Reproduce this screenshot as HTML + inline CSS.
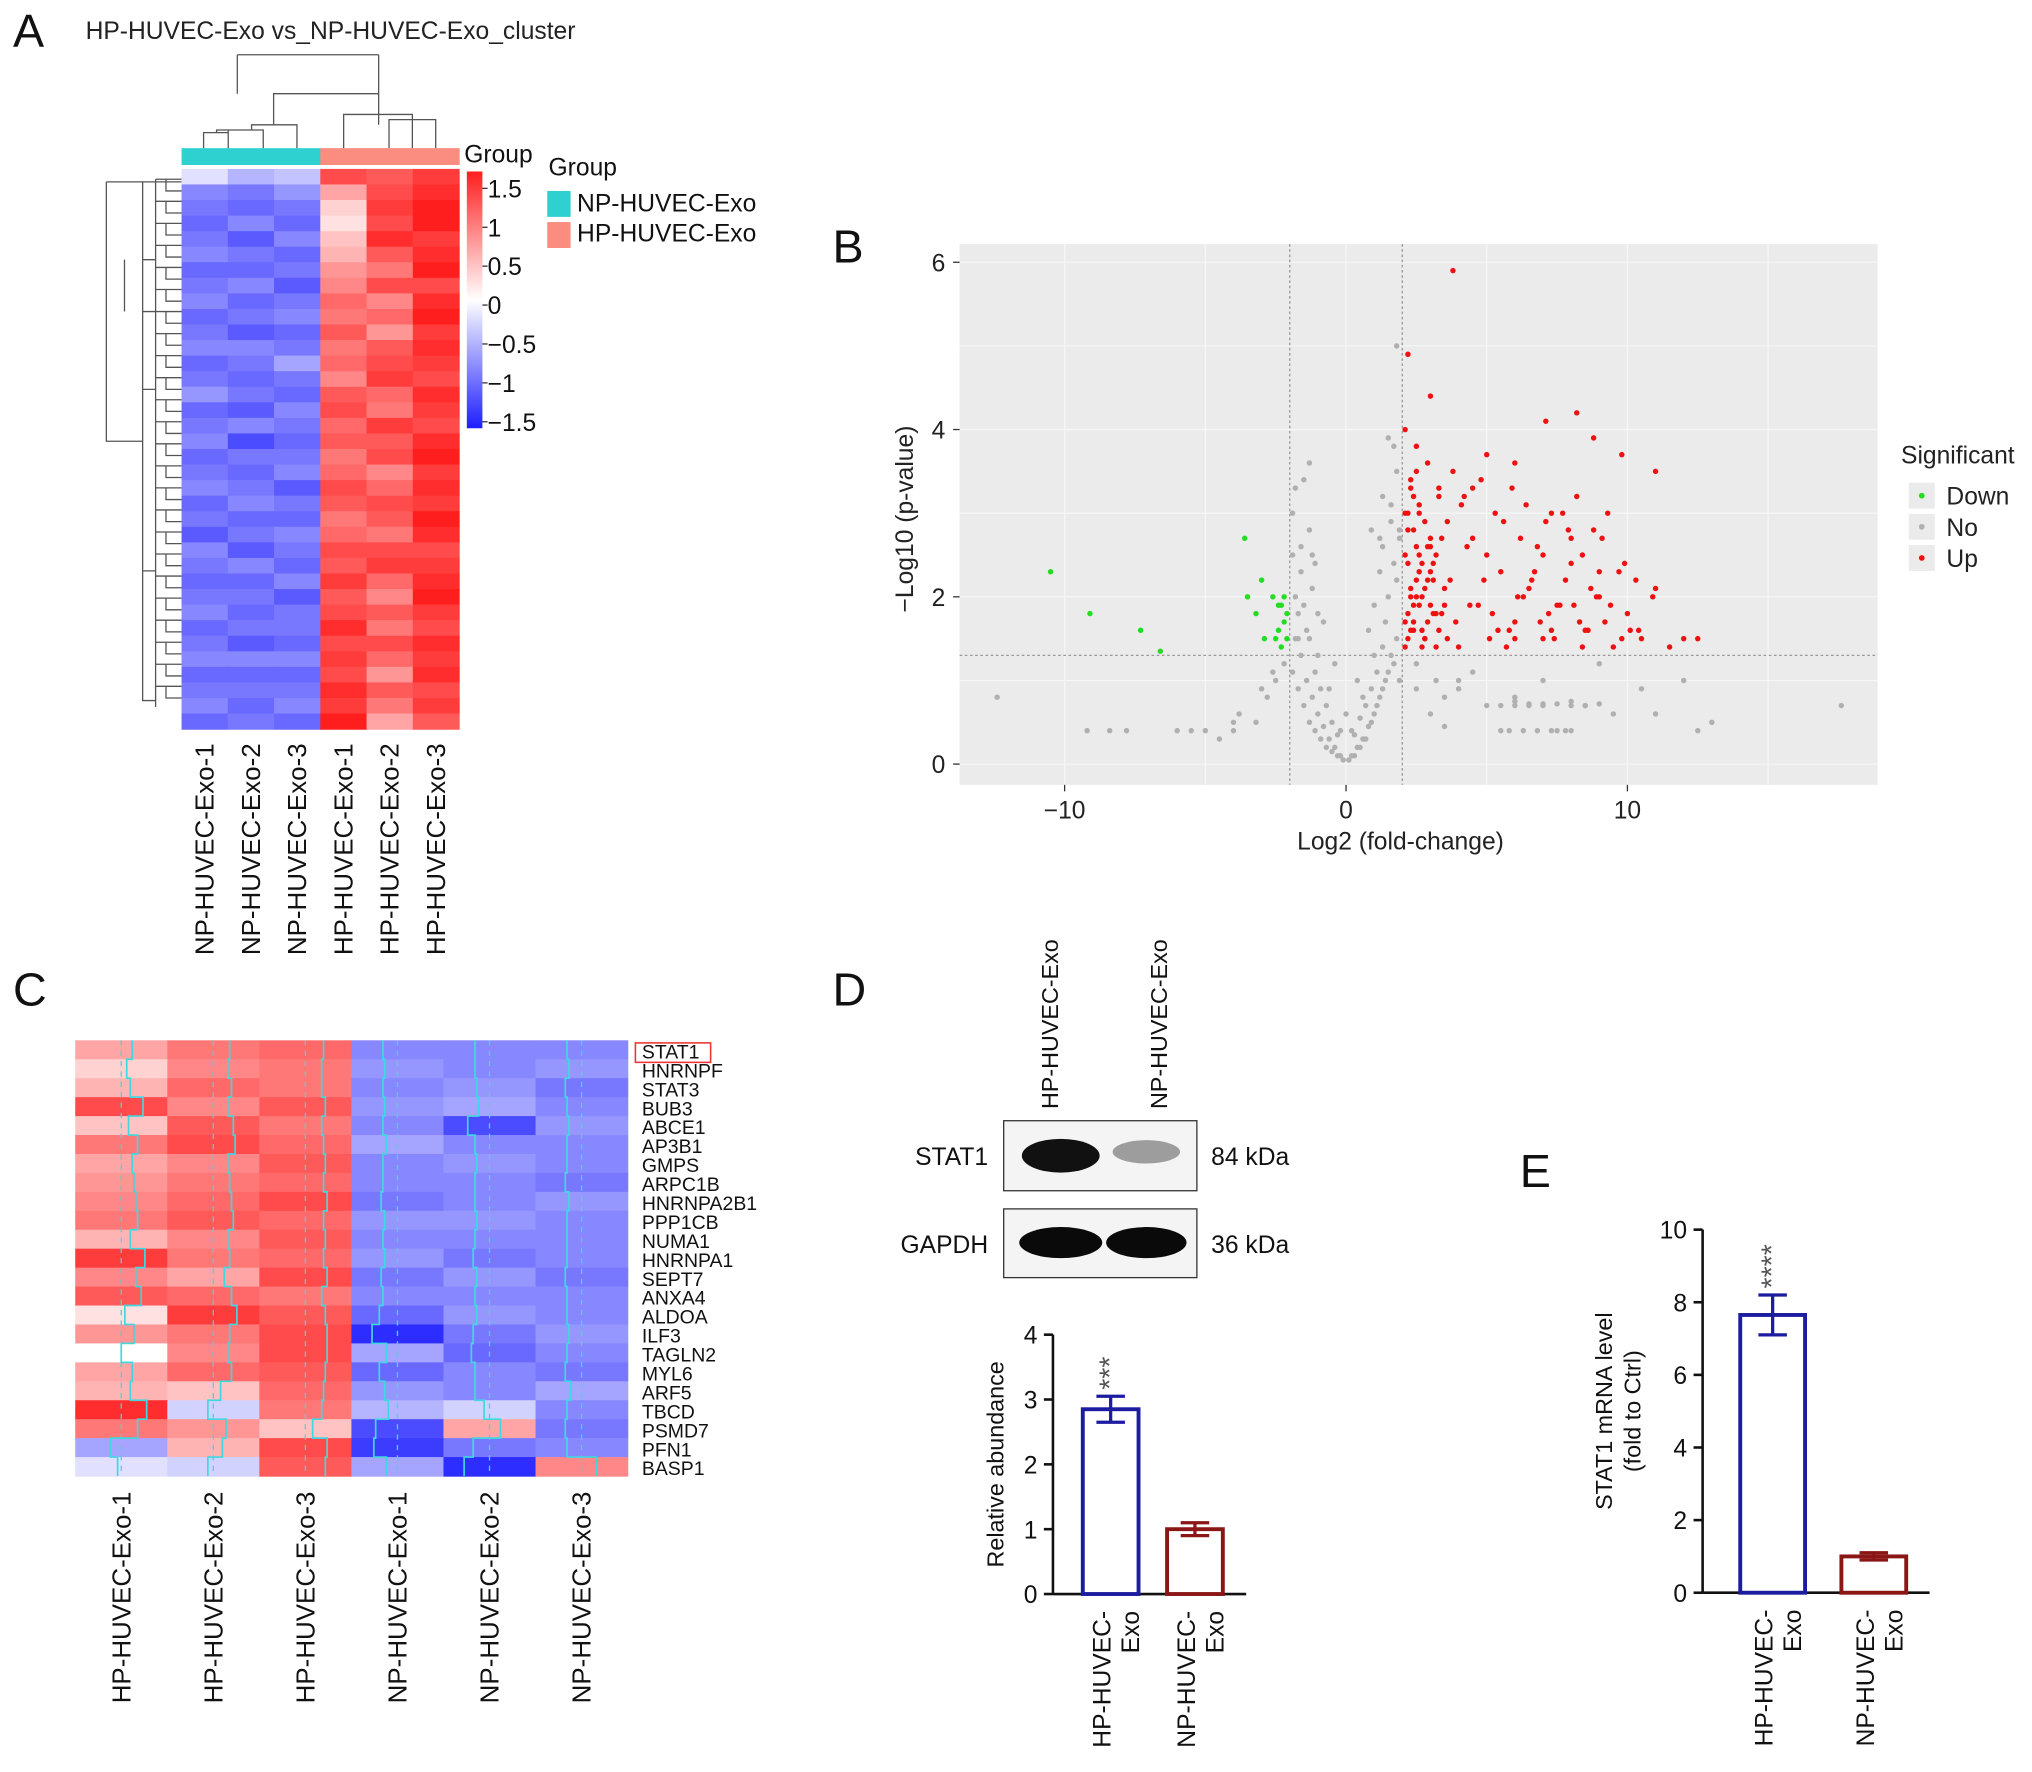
<!DOCTYPE html>
<html><head><meta charset="utf-8"><style>
html,body{margin:0;padding:0;background:#fff}
svg{display:block;font-family:"Liberation Sans",Arial,sans-serif}
</style></head><body>
<svg id="fig" width="2032" height="1772" viewBox="0 0 1567 1366" xmlns="http://www.w3.org/2000/svg">
<rect width="1567" height="1366" fill="#fff"/>
<g font-size="36" fill="#111">
<text x="10" y="36">A</text>
<text x="642" y="202">B</text>
<text x="10" y="775">C</text>
<text x="642" y="775">D</text>
<text x="1172" y="915">E</text>
</g>
<text x="66" y="30" font-size="19" fill="#222">HP-HUVEC-Exo vs_NP-HUVEC-Exo_cluster</text>
<g id="pa"></g><g id="pb"></g><g id="pc"></g><g id="pd"></g><g id="pe"></g>
</svg>
<script>
// ---------- data ----------
const heatARows = [
[-0.2,-0.5,-0.4,1.2,1.1,1.3],[-0.8,-0.9,-0.7,0.6,1.2,1.4],[-0.9,-1.0,-0.9,0.3,1.3,1.5],[-1.0,-0.8,-1.0,0.2,1.2,1.5],
[-0.9,-1.1,-0.8,0.4,1.4,1.3],[-0.8,-0.9,-1.0,0.5,1.1,1.4],[-1.0,-1.0,-0.9,0.7,0.9,1.5],[-0.9,-0.8,-1.1,0.8,1.2,1.2],
[-0.8,-1.0,-0.9,1.0,0.8,1.4],[-1.0,-0.9,-0.8,0.9,1.0,1.5],[-0.9,-1.1,-1.0,1.1,0.7,1.3],[-0.8,-0.8,-0.9,0.9,1.1,1.4],
[-1.0,-0.9,-0.6,1.0,1.2,1.3],[-0.9,-1.0,-0.9,0.8,1.3,1.2],[-0.7,-0.9,-1.0,1.1,1.0,1.4],[-1.0,-1.1,-0.8,1.2,0.9,1.3],
[-0.9,-0.8,-0.9,1.0,1.3,1.2],[-0.8,-1.2,-1.0,1.1,1.1,1.4],[-1.0,-0.9,-0.9,0.9,1.2,1.5],[-0.9,-1.0,-0.8,1.0,0.8,1.3],
[-0.8,-0.9,-1.1,1.2,1.0,1.4],[-1.0,-0.8,-0.9,1.1,1.2,1.3],[-0.9,-1.0,-1.0,0.9,1.1,1.5],[-1.1,-0.9,-0.8,1.0,0.9,1.4],
[-0.8,-1.1,-0.9,1.2,1.2,1.2],[-0.9,-0.8,-1.0,1.1,1.3,1.3],[-1.0,-1.0,-0.8,1.3,1.0,1.4],[-0.9,-0.9,-1.1,1.1,0.8,1.5],
[-0.8,-1.0,-0.9,1.2,1.1,1.3],[-1.0,-0.9,-0.9,1.4,0.9,1.2],[-0.9,-1.1,-1.0,1.2,1.2,1.4],[-0.8,-0.8,-0.8,1.3,1.0,1.3],
[-1.0,-1.0,-1.0,1.2,0.7,1.4],[-0.9,-0.9,-0.9,1.4,1.1,1.2],[-0.8,-1.0,-0.8,1.3,0.9,1.3],[-1.0,-0.9,-1.0,1.5,0.6,1.1]];
const heatAGroups = ['NP','NP','NP','HP','HP','HP'];
const heatASamples = ['NP-HUVEC-Exo-1','NP-HUVEC-Exo-2','NP-HUVEC-Exo-3','HP-HUVEC-Exo-1','HP-HUVEC-Exo-2','HP-HUVEC-Exo-3'];
const colorTicks = [1.5,1,0.5,0,-0.5,-1,-1.5];

const upX = [2.3,2.5,2.8,3.1,3.4,3.7,4.0,4.3,4.7,5.1,5.5,6.0,6.5,7.0,7.5,8.0,8.5,9.0,9.5,10,10.5,11,11.5,12,12.5,
2.2,2.6,3.0,3.3,3.6,4.1,4.5,5.0,5.6,6.2,6.8,7.3,7.9,8.4,9.1,9.7,10.3,10.9,
2.4,2.7,3.2,3.5,3.9,4.4,4.9,5.4,6.1,6.7,7.2,7.8,8.3,8.9,9.4,10.1,
2.3,2.9,3.3,3.8,4.2,4.8,5.3,5.9,6.4,7.1,7.7,8.2,8.8,9.3,9.9,
3.8,2.2,7.1,8.2,8.8,2.5,11.0,5.0,6.0,4.5,9.8,3.0,2.1,2.1,2.1,2.1,2.1,
2.2,2.4,2.6,2.8,3.0,3.2,3.4,3.6,2.3,2.5,2.7,2.9,3.1,3.3,3.5,2.2,2.4,2.6,2.8,3.0,3.2,2.3,2.5,2.7,2.9,3.1,
2.2,2.4,2.6,2.8,3.0,2.3,2.5,2.7,2.9,2.2,2.4,2.6,
5.2,5.8,6.3,6.9,7.4,8.1,8.6,9.2,9.8,10.4,6.6,7.6,8.7,5.7,7.0,8.0,9.0,6.0,7.3,8.4];
const upY = [1.6,2.0,1.5,2.4,1.8,2.2,1.4,2.6,1.9,1.5,2.3,1.7,2.1,1.5,1.9,2.4,1.6,2.0,1.4,1.8,1.5,2.1,1.4,1.5,1.5,
2.8,3.0,2.6,3.2,2.9,3.1,2.7,2.5,2.9,2.7,2.6,3.0,2.8,2.5,2.7,2.3,2.2,2.0,
1.9,1.6,1.8,2.1,1.7,1.9,2.2,1.6,2.0,2.3,1.8,2.2,1.7,2.0,1.9,1.6,
3.4,3.6,3.3,3.5,3.2,3.4,3.0,3.3,3.1,2.9,3.0,3.2,2.8,3.0,2.4,
5.9,4.9,4.1,4.2,3.9,3.8,3.5,3.7,3.6,3.3,3.7,4.4,4.0,3.0,2.5,1.7,1.4,
1.5,1.7,1.9,2.1,2.3,2.5,2.7,1.5,2.0,2.2,2.4,2.6,1.8,1.6,1.9,2.4,2.8,3.1,2.9,2.7,1.4,3.3,3.5,2.0,1.7,2.2,
1.8,1.6,2.3,1.5,1.9,2.1,2.6,1.4,2.2,3.0,3.2,2.5,
1.8,1.6,2.0,1.7,1.5,1.9,1.6,1.7,1.5,1.6,2.2,1.9,2.1,1.4,2.5,2.7,2.3,1.5,1.6,1.4];
const downX = [-10.5,-9.1,-7.3,-6.6,-3.6,-3.5,-3.2,-2.9,-2.6,-2.4,-2.2,-3.0,-2.5,-2.3,-2.1,-2.2,-2.4,-2.1,-2.3];
const downY = [2.3,1.8,1.6,1.35,2.7,2.0,1.8,1.5,2.0,1.9,1.7,2.2,1.5,1.4,1.8,2.0,1.6,1.5,1.9];
const noX = [-12.4,-9.2,-8.4,-7.8,-6.0,-5.0,-4.5,-4.0,-3.8,-3.2,-2.8,-2.5,-2.2,-1.9,-1.7,-1.5,-1.3,-1.1,-0.9,-0.7,-0.5,-0.3,-0.1,0.1,0.3,0.5,0.7,0.9,1.1,1.3,1.5,1.7,1.9,
-1.8,-1.4,-1.0,-0.6,-0.2,0.2,0.6,1.0,1.4,1.8,-1.6,-1.2,-0.8,-0.4,0,0.4,0.8,1.2,1.6,
-1.9,-1.5,-1.1,0.9,1.3,1.7,1.9,1.8,-1.7,-1.3,1.5,
2.5,3.2,4.0,5.0,5.5,6.0,6.5,7.0,7.5,8.0,8.5,9.5,10.5,12.0,13.0,17.6,3.5,4.5,6.0,7.0,8.0,9.0,11.0,12.5,
-1.8,-1.6,-1.4,-1.2,-1.0,-0.8,-0.6,-0.4,-0.2,0.2,0.4,0.6,0.8,1.0,1.2,1.4,1.6,1.8,
-1.7,-1.5,-1.3,-1.1,-0.9,-0.7,-0.5,-0.3,0.3,0.5,0.7,0.9,1.1,1.3,1.5,1.7,
-1.9,-1.6,-1.3,-1.0,1.0,1.3,1.6,1.9,-1.8,-1.2,1.2,1.8,
5.5,6.0,6.5,7.0,7.5,8.0,8.5,9.0,5.8,6.3,6.8,7.3,7.8,2.5,3.0,3.5,4.0,-4.0,-5.5,-3.0,-2.6];
const noY = [0.8,0.4,0.4,0.4,0.4,0.4,0.3,0.4,0.6,0.5,0.8,1.0,1.2,1.1,0.9,0.7,0.5,0.4,0.3,0.2,0.15,0.1,0.05,0.05,0.1,0.2,0.3,0.5,0.7,0.9,1.1,1.2,1.0,
2.0,1.6,1.3,0.9,0.4,0.4,0.8,1.3,1.7,2.2,2.6,2.1,1.7,1.2,0.6,1.0,1.6,2.3,2.9,
3.0,3.4,2.4,2.8,3.2,3.8,2.7,5.0,1.5,3.6,3.9,
1.2,1.0,0.9,0.7,0.4,0.75,0.7,0.72,0.4,0.75,0.7,0.6,0.9,1.0,0.5,0.7,0.45,1.1,0.8,1.0,0.4,1.2,0.6,0.4,
1.5,1.3,1.0,0.8,0.6,0.45,0.3,0.2,0.1,0.1,0.2,0.3,0.45,0.6,0.8,1.0,1.3,1.5,
1.8,1.9,1.5,1.1,0.9,0.7,0.5,0.35,0.35,0.55,0.7,0.9,1.1,1.4,2.0,2.4,
2.5,2.3,2.8,1.8,1.9,2.6,3.1,2.8,3.3,2.5,2.7,3.5,
0.7,0.7,0.72,0.7,0.72,0.7,0.7,0.72,0.4,0.4,0.4,0.4,0.4,0.9,0.6,0.8,1.0,0.5,0.4,0.9,1.1];
const bTicksX = [-10,0,10];
const bTicksY = [0,2,4,6];

const genes = ['STAT1','HNRNPF','STAT3','BUB3','ABCE1','AP3B1','GMPS','ARPC1B','HNRNPA2B1','PPP1CB','NUMA1','HNRNPA1','SEPT7','ANXA4','ALDOA','ILF3','TAGLN2','MYL6','ARF5','TBCD','PSMD7','PFN1','BASP1'];
const heatCSamples = ['HP-HUVEC-Exo-1','HP-HUVEC-Exo-2','HP-HUVEC-Exo-3','NP-HUVEC-Exo-1','NP-HUVEC-Exo-2','NP-HUVEC-Exo-3'];
const heatCRows = [
[0.6,0.9,1.0,-0.8,-0.8,-0.8],[0.3,0.8,0.9,-0.7,-0.8,-0.7],[0.5,1.0,0.9,-0.8,-0.7,-0.9],[1.2,0.8,1.1,-0.7,-0.6,-0.8],
[0.4,1.1,0.9,-0.8,-1.2,-0.7],[0.9,1.2,1.0,-0.6,-0.8,-0.8],[0.6,0.8,1.1,-0.8,-0.7,-0.8],[0.7,0.9,1.0,-0.8,-0.8,-0.9],
[0.8,1.0,1.2,-0.9,-0.8,-0.7],[0.9,1.1,1.0,-0.7,-0.7,-0.8],[0.5,0.8,1.1,-0.8,-0.8,-0.8],[1.3,0.9,1.0,-0.7,-0.9,-0.8],
[0.8,0.6,1.2,-0.9,-0.7,-0.9],[1.1,1.0,0.9,-0.8,-0.8,-0.8],[0.2,1.3,1.1,-1.0,-0.7,-0.8],[0.7,0.9,1.2,-1.4,-0.9,-0.7],
[0.0,0.8,1.2,-0.6,-1.0,-0.8],[0.6,1.0,1.1,-1.0,-0.8,-0.9],[0.5,0.4,1.0,-0.7,-0.8,-0.6],[1.4,-0.3,0.9,-0.5,-0.3,-0.8],
[0.9,0.7,0.4,-1.2,0.6,-0.9],[-0.6,0.5,1.2,-1.3,-0.9,-0.8],[-0.2,-0.3,1.1,-0.6,-1.4,0.8]];

const dCats = ['HP-HUVEC-Exo','NP-HUVEC-Exo'];
const dVals = [2.85,1.0];
const dErr = [0.2,0.1];
const dTicks = [0,1,2,3,4];
const eVals = [7.65,1.0];
const eErr = [0.55,0.1];
const eTicks = [0,2,4,6,8,10];

// ---------- helpers ----------
const NS='http://www.w3.org/2000/svg';
function mk(parent,tag,attrs,text){const e=document.createElementNS(NS,tag);for(const k in attrs)e.setAttribute(k,attrs[k]);if(text!==undefined)e.textContent=text;parent.appendChild(e);return e;}
function heatColor(v){v=Math.max(-1.5,Math.min(1.5,v));const t=Math.abs(v)/1.5;
 if(v>=0){return `rgb(255,${Math.round(255-t*225)},${Math.round(255-t*225)})`;}
 return `rgb(${Math.round(255-t*225)},${Math.round(255-t*225)},255)`;}

// ---------- Panel A ----------
const pa=document.getElementById('pa');
const aX0=140,aY0=130,aW=214,aH=432,aCw=aW/6,aRh=aH/heatARows.length;
heatAGroups.forEach((g,i)=>{const r=mk(pa,'rect',{x:aX0+i*aCw,y:114,width:aCw+0.5,height:13,fill:g==='NP'?'#2ed1cf':'#fa8c80'});
});
heatARows.forEach((row,r)=>row.forEach((v,c)=>{const e=mk(pa,'rect',{x:aX0+c*aCw,y:aY0+r*aRh,width:aCw+0.5,height:aRh+0.5,fill:heatColor(v)});
}));
mk(pa,'path',{d:'M157 114V102H176V114 M167 102V100H203V114 M176 102V100 M194 100V96H229V114 M211 96V72H292V96 M265 114V88H318V114 M300 114V92H336V114 M292 96V88 M183 42V72 M292 42V72 M183 42H292',fill:'none',stroke:'#555','stroke-width':1});
let dp='M82 140V340H110 M110 140V340 M82 140H140 M82 340H110 M110 240H140 M96 240V200';
for(let i=0;i<24;i++){const y=aY0+8+i*17;dp+=`M120 ${y}H140 M128 ${y}V${y+9}H140`;}
dp+='M120 138V545 M110 300H120 M110 200H120 M120 440H110 M110 340V540H120';
mk(pa,'path',{d:dp,fill:'none',stroke:'#555','stroke-width':1});
heatASamples.forEach((s,i)=>{const x=aX0+i*aCw+aCw/2+7;const t=mk(pa,'text',{x:x,y:573,'font-size':20,'text-anchor':'end',transform:`rotate(-90 ${x} 573)`,fill:'#111'},s);
});
const grad=mk(pa,'linearGradient',{id:'cb',x1:0,y1:0,x2:0,y2:1});
mk(grad,'stop',{offset:'0','stop-color':'#ff1e1e'});mk(grad,'stop',{offset:'0.5','stop-color':'#ffffff'});mk(grad,'stop',{offset:'1','stop-color':'#1e1eff'});
mk(pa,'rect',{x:360,y:132,width:12,height:198,fill:'url(#cb)'});
mk(pa,'text',{x:358,y:125,'font-size':19,fill:'#111'},'Group');
colorTicks.forEach(v=>{const y=235-v*60;mk(pa,'line',{x1:372,x2:376,y1:y,y2:y,stroke:'#333'});
const t=mk(pa,'text',{x:376,y:y+7,'font-size':19,fill:'#111'},v<0?'\u2212'+Math.abs(v):String(v));});
mk(pa,'text',{x:423,y:135,'font-size':19,fill:'#111'},'Group');
mk(pa,'rect',{x:422,y:147,width:18,height:20,fill:'#2ed1cf'});
mk(pa,'rect',{x:422,y:171,width:18,height:20,fill:'#fa8c80'});
mk(pa,'text',{x:445,y:163,'font-size':19,fill:'#111',},'NP-HUVEC-Exo');
mk(pa,'text',{x:445,y:186,'font-size':19,fill:'#111',},'HP-HUVEC-Exo');

// ---------- Panel B ----------
const pb=document.getElementById('pb');
const bx=v=>1038+v*21.7, by=v=>589-v*64.5;
mk(pb,'rect',{x:740,y:188,width:708,height:417,fill:'#ebebeb',});
[-10,-5,0,5,10,15].forEach(v=>mk(pb,'line',{x1:bx(v),x2:bx(v),y1:188,y2:605,stroke:'#f6f6f6','stroke-width':1}));
[0,1,2,3,4,5,6].forEach(v=>mk(pb,'line',{x1:740,x2:1448,y1:by(v),y2:by(v),stroke:'#f6f6f6','stroke-width':1}));
mk(pb,'line',{x1:bx(-2),x2:bx(-2),y1:188,y2:605,stroke:'#999','stroke-dasharray':'2,2'});
mk(pb,'line',{x1:bx(2),x2:bx(2),y1:188,y2:605,stroke:'#999','stroke-dasharray':'2,2'});
mk(pb,'line',{x1:740,x2:1448,y1:by(1.3),y2:by(1.3),stroke:'#999','stroke-dasharray':'2,2'});
function pts(xs,ys,col,name){xs.forEach((x,i)=>{const c=mk(pb,'circle',{cx:bx(x),cy:by(ys[i]),r:2.1,fill:col});});}
pts(noX,noY,'#b0b0b0','point-no');pts(downX,downY,'#22dd22','point-down');pts(upX,upY,'#ee1111','point-up');
bTicksX.forEach(v=>{mk(pb,'line',{x1:bx(v),x2:bx(v),y1:605,y2:610,stroke:'#333'});
const t=mk(pb,'text',{x:bx(v),y:631,'font-size':19,'text-anchor':'middle',fill:'#222'},v<0?'\u2212'+Math.abs(v):String(v));});
bTicksY.forEach(v=>{mk(pb,'line',{x1:735,x2:740,y1:by(v),y2:by(v),stroke:'#333'});
const t=mk(pb,'text',{x:729,y:by(v)+7,'font-size':19,'text-anchor':'end',fill:'#222'},String(v));});
mk(pb,'text',{x:1080,y:655,'font-size':19,'text-anchor':'middle',fill:'#222',},'Log2 (fold-change)');
mk(pb,'text',{x:704,y:400,'font-size':19,'text-anchor':'middle',fill:'#222',transform:'rotate(-90 704 400)',},'\u2212Log10 (p-value)');
mk(pb,'text',{x:1466,y:357,'font-size':19,fill:'#222'},'Significant');
[['Down','#22dd22',382],['No','#b0b0b0',406],['Up','#ee1111',430]].forEach(([n,c,y])=>{
mk(pb,'rect',{x:1472,y:y-10,width:20,height:20,fill:'#ebebeb'});mk(pb,'circle',{cx:1482,cy:y,r:2.2,fill:c});
const t=mk(pb,'text',{x:1501,y:y+7,'font-size':19,fill:'#222'},n);});

// ---------- Panel C ----------
const pc=document.getElementById('pc');
const cX0=58,cY0=802,cW=426,cH=336,cCw=cW/6,cRh=cH/heatCRows.length;
heatCRows.forEach((row,r)=>row.forEach((v,c)=>{const e=mk(pc,'rect',{x:cX0+c*cCw,y:cY0+r*cRh,width:cCw+0.5,height:cRh+0.5,fill:heatColor(v)});
}));
for(let c=0;c<6;c++){const mx=cX0+c*cCw+cCw/2;
mk(pc,'line',{x1:mx,x2:mx,y1:cY0,y2:cY0+cH,stroke:'#40d8e0','stroke-dasharray':'4,4','stroke-width':1});
let d='';heatCRows.forEach((row,r)=>{const x=mx+row[c]*14;const y=cY0+r*cRh;d+=(r?'L':'M')+x+' '+y+'V'+(y+cRh);});
mk(pc,'path',{d:d,fill:'none',stroke:'#40d8e0','stroke-width':1.3});}
genes.forEach((g,i)=>{const t=mk(pc,'text',{x:495,y:cY0+9+i*cRh+5,'font-size':15,fill:'#111'},g);});
mk(pc,'rect',{x:490,y:804,width:58,height:15,fill:'none',stroke:'#e33','stroke-width':1.2,});
heatCSamples.forEach((s,i)=>{const x=cX0+i*cCw+cCw/2+7;const t=mk(pc,'text',{x:x,y:1150,'font-size':20,'text-anchor':'end',transform:`rotate(-90 ${x} 1150)`,fill:'#111'},s);
});

// ---------- Panel D ----------
const pd=document.getElementById('pd');
dCats.forEach((s,i)=>{const x=[816,900][i];mk(pd,'text',{x:x,y:855,'font-size':18,transform:`rotate(-90 ${x} 855)`,fill:'#111'},s);});
mk(pd,'rect',{x:774,y:864,width:149,height:54,fill:'#f4f4f4',stroke:'#333',});
mk(pd,'rect',{x:774,y:932,width:149,height:53,fill:'#f4f4f4',stroke:'#333',});
mk(pd,'ellipse',{cx:818,cy:891,rx:30,ry:13,fill:'#111'});
mk(pd,'ellipse',{cx:884,cy:888,rx:26,ry:9,fill:'#777',opacity:0.7});
mk(pd,'ellipse',{cx:818,cy:958,rx:32,ry:12,fill:'#0a0a0a'});
mk(pd,'ellipse',{cx:884,cy:958,rx:31,ry:12,fill:'#0a0a0a'});
mk(pd,'text',{x:762,y:898,'font-size':19,'text-anchor':'end',fill:'#111'},'STAT1');
mk(pd,'text',{x:762,y:966,'font-size':19,'text-anchor':'end',fill:'#111'},'GAPDH');
mk(pd,'text',{x:934,y:898,'font-size':19,fill:'#111'},'84 kDa');
mk(pd,'text',{x:934,y:966,'font-size':19,fill:'#111'},'36 kDa');
function barChart(g,axX,y0,unit,ticks,vals,errs,xs,bw,yTitle,prefix,stars,titleX){
 const yy=v=>y0-v*unit;
 mk(g,'line',{x1:axX,x2:axX,y1:yy(ticks[ticks.length-1]),y2:y0,stroke:'#111','stroke-width':2});
 mk(g,'line',{x1:axX,x2:xs[1]+bw+18,y1:y0,y2:y0,stroke:'#111','stroke-width':2});
 ticks.forEach(v=>{mk(g,'line',{x1:axX-7,x2:axX,y1:yy(v),y2:yy(v),stroke:'#111','stroke-width':2});
 const t=mk(g,'text',{x:axX-12,y:yy(v)+7,'font-size':19,'text-anchor':'end',fill:'#111'},String(v));});
 const cols=['#1c1ca0','#8a1616'];
 vals.forEach((v,i)=>{const r=mk(g,'rect',{x:xs[i],y:yy(v),width:bw,height:v*unit,fill:'#fff',stroke:cols[i],'stroke-width':3});
 
 const cx=xs[i]+bw/2;mk(g,'path',{d:`M${cx} ${yy(v+errs[i])}V${yy(v-errs[i])} M${cx-11} ${yy(v+errs[i])}H${cx+11} M${cx-11} ${yy(v-errs[i])}H${cx+11}`,stroke:cols[i],'stroke-width':2.5,fill:'none'});
 const lx=xs[i]+bw/2+2;
 mk(g,'text',{x:lx-2,y:y0+13,'font-size':19,'text-anchor':'end',transform:`rotate(-90 ${lx-2} ${y0+13})`,fill:'#111'},['HP-HUVEC-','NP-HUVEC-'][i]);
 mk(g,'text',{x:lx+20,y:y0+13,'font-size':19,'text-anchor':'end',transform:`rotate(-90 ${lx+20} ${y0+13})`,fill:'#111'},'Exo');});
 const sx=xs[0]+bw/2+7, sy=yy(vals[0]+errs[0])-5;
 const st=mk(g,'text',{x:sx,y:sy,'font-size':22,'text-anchor':'start',transform:`rotate(-90 ${sx} ${sy})`,fill:'#555'},stars);
 
 yTitle.forEach((l,k)=>{const tx=titleX+k*22;const my=yy((ticks[0]+ticks[ticks.length-1])/2);const t=mk(g,'text',{x:tx,y:my,'font-size':18,'text-anchor':'middle',transform:`rotate(-90 ${tx} ${my})`,fill:'#111'},l);
 });
}
barChart(pd,812,1229,50,dTicks,dVals,dErr,[835,900],43,['Relative abundance'],'abundance','***',774);

// ---------- Panel E ----------
const pe=document.getElementById('pe');
barChart(pe,1313,1228,28,eTicks,eVals,eErr,[1342,1420],50,['STAT1 mRNA level','(fold to Ctrl)'],'mrna','****',1243);
</script>
</body></html>
